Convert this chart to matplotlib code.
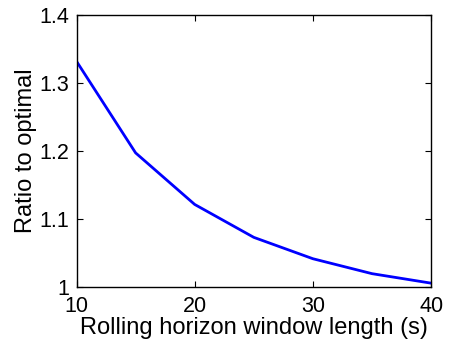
import matplotlib
matplotlib.use("Agg")
import matplotlib.pyplot as plt

# window length (s) vs ratio to optimal
window_len = [10, 15, 20, 25, 30, 35, 40]
ratio = [1.332, 1.197, 1.121, 1.0725, 1.041, 1.019, 1.005]
x_ticks = [10, 20, 30, 40]
y_ticks = [1, 1.1, 1.2, 1.3, 1.4]
y_tick_labels = ["1", "1.1", "1.2", "1.3", "1.4"]

plt.rcParams['font.family'] = ['Liberation Sans', 'DejaVu Sans']

fig = plt.figure(figsize=(4.5, 3.44), dpi=100)
ax = fig.add_axes([0.17, 0.167, 0.788, 0.789])

ax.plot(window_len, ratio, color=(0, 0, 1), linewidth=2.0)

ax.set_xlim(10, 40)
ax.set_ylim(1, 1.4)
ax.set_xticks(x_ticks)
ax.set_yticks(y_ticks)
ax.set_yticklabels(y_tick_labels)
ax.tick_params(direction='in', top=True, right=True, labelsize=15.5,
               length=4, width=0.8)
ax.tick_params(axis='x', pad=7)
ax.tick_params(axis='y', pad=5)
for s in ax.spines.values():
    s.set_linewidth(1.0)

ax.set_xlabel("Rolling horizon window length (s)", fontsize=17, labelpad=0)
ax.set_ylabel("Ratio to optimal", fontsize=17, labelpad=2)

fig.savefig("out.png", dpi=100)
